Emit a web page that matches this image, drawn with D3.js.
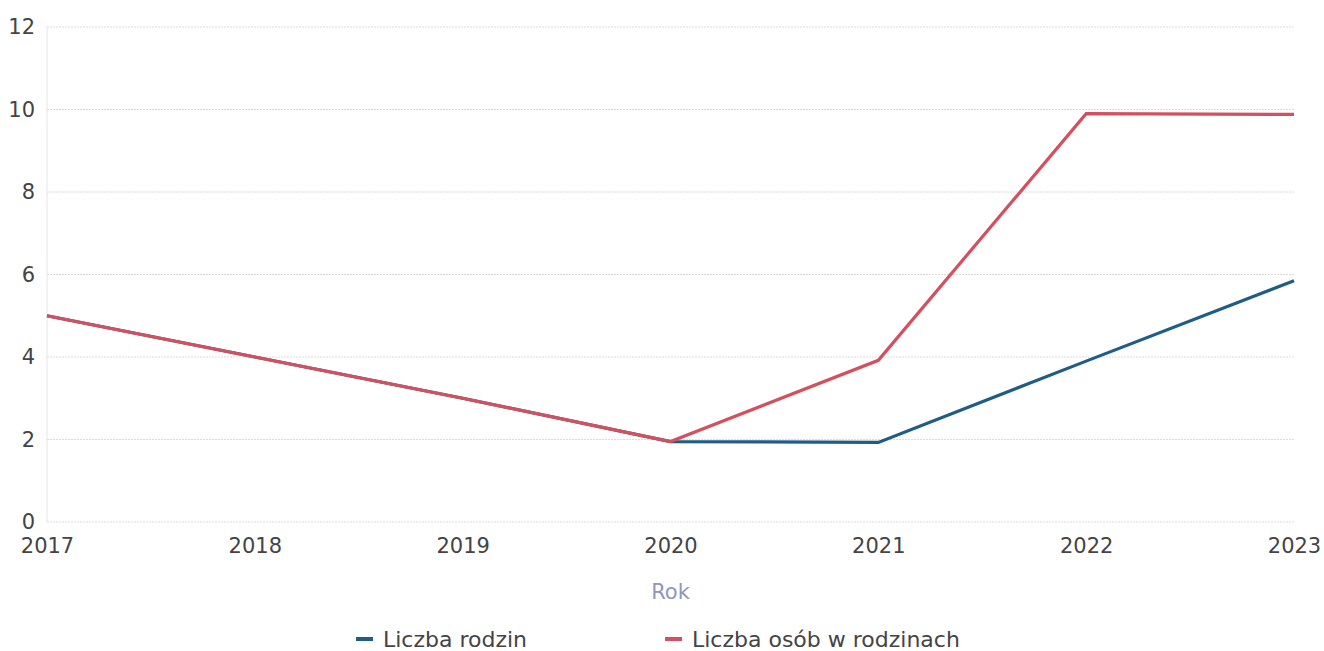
<!DOCTYPE html>
<html>
<head>
<meta charset="utf-8">
<script src="https://cdn.jsdelivr.net/npm/d3@7"></script>
<style>
  body { margin: 0; background: #fff; }
  text { font-family: "DejaVu Sans", sans-serif; }
</style>
</head>
<body>
<div id="vis"></div>
<script>
// data
var years = [2017, 2018, 2019, 2020, 2021, 2022, 2023];
var rodziny = [5, 4, 3, 1.95, 1.93, 3.9, 5.85];
var osoby = [5, 4, 3, 1.95, 3.92, 9.9, 9.88];
var yTicks = [0, 2, 4, 6, 8, 10, 12];
var seriesNames = ["Liczba rodzin", "Liczba osób w rodzinach"];
var seriesColors = ["#1f5d87", "#d4505e"];

var width = 1324, height = 651;
var x = d3.scalePoint().domain(years).range([47, 1294]);
var y = d3.scaleLinear().domain([0, 12]).range([522, 27]);

var svg = d3.select("#vis").append("svg")
  .attr("width", width)
  .attr("height", height);

// grid
svg.append("g").selectAll("line")
  .data(yTicks)
  .enter().append("line")
  .attr("x1", 47).attr("x2", 1294)
  .attr("y1", function(d){ return y(d); })
  .attr("y2", function(d){ return y(d); })
  .attr("stroke", "#dcdcdc")
  .attr("stroke-width", 1)
  .attr("stroke-dasharray", "2,1");

svg.append("line")
  .attr("x1", 47).attr("x2", 47)
  .attr("y1", y(12)).attr("y2", y(0))
  .attr("stroke", "#e6e6e6");

// y axis
var yAxis = d3.axisLeft(y).tickValues(yTicks).tickSize(0).tickPadding(12);
var gy = svg.append("g").attr("transform", "translate(47,0)").call(yAxis);
gy.select(".domain").remove();
gy.selectAll("text").attr("font-size", 21).attr("fill", "#444")
  .attr("font-family", "DejaVu Sans, sans-serif");

// x axis
var xAxis = d3.axisBottom(x).tickSize(0).tickPadding(16).tickFormat(d3.format("d"));
var gx = svg.append("g").attr("transform", "translate(0," + y(0) + ")").call(xAxis);
gx.select(".domain").remove();
gx.selectAll("text").attr("font-size", 21).attr("fill", "#444")
  .attr("font-family", "DejaVu Sans, sans-serif");

svg.append("text")
  .attr("x", x(2020)).attr("y", 599)
  .attr("text-anchor", "middle")
  .attr("font-size", 21)
  .attr("fill", "#8f97bd")
  .text("Rok");

// lines
var line = d3.line()
  .x(function(d, i){ return x(years[i]); })
  .y(function(d){ return y(d); });

[rodziny, osoby].forEach(function(s, i){
  svg.append("path")
    .datum(s)
    .attr("d", line)
    .attr("fill", "none")
    .attr("stroke", seriesColors[i])
    .attr("stroke-width", 3.2)
    .attr("stroke-linejoin", "miter");
});

// legend
var legX = [356, 665];
var leg = svg.append("g").selectAll("g")
  .data(seriesNames)
  .enter().append("g")
  .attr("transform", function(d, i){ return "translate(" + legX[i] + ",639)"; });
leg.append("rect")
  .attr("x", 0).attr("y", -2).attr("width", 17).attr("height", 4)
  .attr("fill", function(d, i){ return seriesColors[i]; });
leg.append("text")
  .attr("x", 27).attr("y", 8)
  .attr("font-size", 22)
  .attr("fill", "#444")
  .text(function(d){ return d; });
</script>
</body>
</html>
